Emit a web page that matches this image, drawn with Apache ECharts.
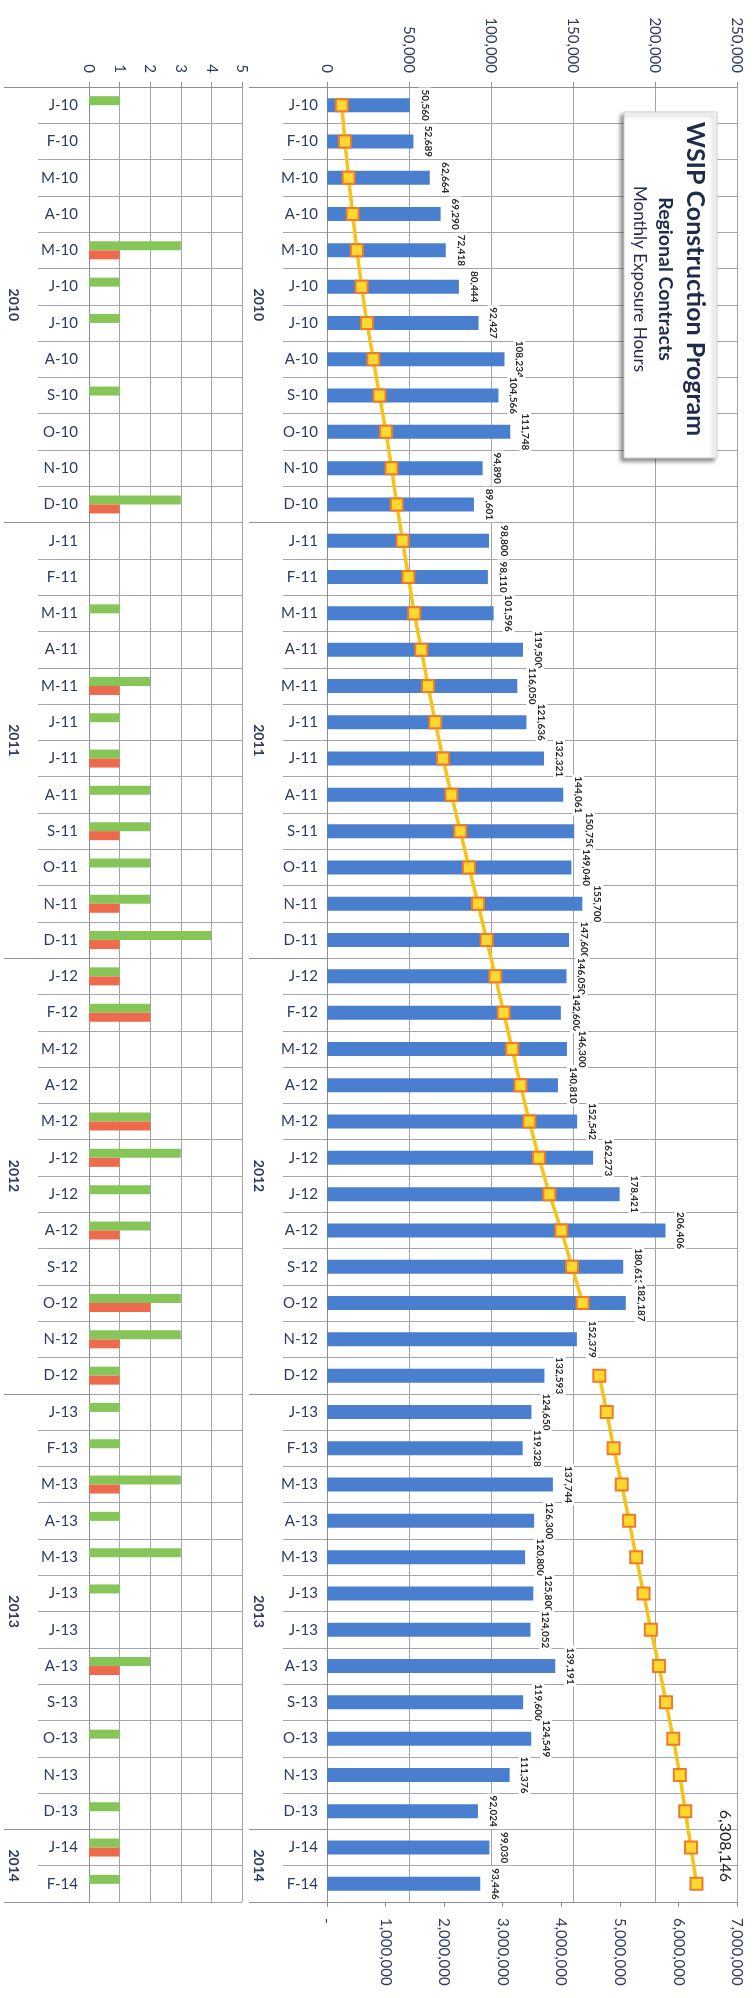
<!DOCTYPE html>
<html>
<head>
<meta charset="utf-8">
<title>WSIP Construction Program - Monthly Exposure Hours</title>
<script src="https://cdn.jsdelivr.net/npm/echarts@6.0.0/dist/echarts.min.js"></script>
<style>
  html, body { margin: 0; padding: 0; background: #fff; }
  #chart { width: 756px; height: 1998px; }
</style>
</head>
<body>
<div id="chart"></div>
<script>
// categories (one per month, Jan 2010 .. Feb 2014)
const months = [
  'J-10','F-10','M-10','A-10','M-10','J-10','J-10','A-10','S-10','O-10','N-10','D-10',
  'J-11','F-11','M-11','A-11','M-11','J-11','J-11','A-11','S-11','O-11','N-11','D-11',
  'J-12','F-12','M-12','A-12','M-12','J-12','J-12','A-12','S-12','O-12','N-12','D-12',
  'J-13','F-13','M-13','A-13','M-13','J-13','J-13','A-13','S-13','O-13','N-13','D-13',
  'J-14','F-14'
];
const years = ['2010', '2011', '2012', '2013', '2014'];
const yearSizes = [12, 12, 12, 12, 2];

// monthly exposure hours (blue bars)
const monthlyHours = [
  50560, 52689, 62664, 69290, 72418, 80444, 92427, 108234, 104566, 111748, 94890, 89601,
  98800, 98110, 101596, 119500, 116050, 121636, 132321, 144061, 150750, 149040, 155700, 147600,
  146050, 142600, 146300, 140810, 152542, 162273, 178421, 206406, 180613, 182187, 152379, 132593,
  124650, 119328, 137744, 126300, 120800, 125800, 124052, 139191, 119600, 124549, 111376, 92024,
  99030, 93446
];

// cumulative hours (yellow line; N-12 point missing)
const cumulativeHours = [
  253000, 306000, 368000, 438000, 510000, 590000, 683000, 791000, 896000, 1007000, 1102000, 1192000,
  1291000, 1389000, 1490000, 1610000, 1726000, 1848000, 1980000, 2124000, 2275000, 2424000, 2579000, 2727000,
  2873000, 3016000, 3162000, 3303000, 3455000, 3618000, 3796000, 4002000, 4183000, 4365000, null, 4650000,
  4775000, 4894000, 5032000, 5158000, 5279000, 5405000, 5529000, 5668000, 5788000, 5912000, 6024000, 6116000,
  6215000, 6308146
];

// incident counts, small left panel
const greenCounts = [
  1, 0, 0, 0, 3, 1, 1, 0, 1, 0, 0, 3,
  0, 0, 1, 0, 2, 1, 1, 2, 2, 2, 2, 4,
  1, 2, 0, 0, 2, 3, 2, 2, 0, 3, 3, 1,
  1, 1, 3, 1, 3, 1, 0, 2, 0, 1, 0, 1,
  1, 1
];
const redCounts = [
  0, 0, 0, 0, 1, 0, 0, 0, 0, 0, 0, 1,
  0, 0, 0, 0, 1, 0, 1, 0, 1, 0, 1, 1,
  1, 2, 0, 0, 2, 1, 0, 1, 0, 2, 1, 1,
  0, 0, 1, 0, 0, 0, 0, 1, 0, 0, 0, 0,
  1, 0
];

const fmt = (v) => Number(v).toLocaleString('en-US');

// first index of each year, and middle position of each year group
const groupStarts = [];
const groupMids = {};
let acc = 0;
yearSizes.forEach((n, i) => {
  groupStarts.push(acc);
  groupMids[acc + n / 2] = years[i];
  acc += n;
});

const gridColor = '#a3a3ad';
const labelColor = '#2d3a62';
const FONT = 'Lato';

function monthAxis(gridIndex, margin, tickLen) {
  return {
    type: 'category', gridIndex, data: months, inverse: true, position: 'left',
    axisLine: { show: true, lineStyle: { color: '#8e8e98', width: 1 } },
    axisTick: { show: true, interval: 0, length: tickLen, lineStyle: { color: gridColor } },
    axisLabel: { interval: 0, margin, fontSize: 15, color: labelColor, fontFamily: FONT },
    splitLine: { show: true, interval: 0, lineStyle: { color: gridColor, width: 1 } }
  };
}
function yearBoundaryAxis(gridIndex, tickLen) {
  return {
    type: 'category', gridIndex, data: months, inverse: true, position: 'left',
    axisLine: { show: false },
    axisTick: { show: true, length: tickLen, interval: (i) => groupStarts.includes(i),
      lineStyle: { color: '#8e8e98' } },
    axisLabel: { show: false },
    splitLine: { show: false }
  };
}
function yearLabelAxis(gridIndex, offset) {
  return {
    type: 'value', gridIndex, min: 0, max: months.length, interval: 1, inverse: true,
    position: 'left', offset,
    axisLine: { show: false }, axisTick: { show: false }, splitLine: { show: false },
    axisLabel: { rotate: -90, margin: 0, fontSize: 14, fontWeight: 'bold', color: labelColor,
      fontFamily: FONT, formatter: (v) => groupMids[v] || '' }
  };
}

const chart = echarts.init(document.getElementById('chart'));

const lastIdx = cumulativeHours.length - 1;

const option = {
  animation: false,
  backgroundColor: '#ffffff',
  textStyle: { fontFamily: FONT },
  grid: [
    { left: 89, top: 87, width: 153, height: 1815, outerBoundsMode: 'none' },
    { left: 327, top: 87, width: 410, height: 1815, outerBoundsMode: 'none' }
  ],
  xAxis: [
    {
      type: 'value', gridIndex: 0, position: 'top', min: 0, max: 5, interval: 1,
      axisLine: { show: true, lineStyle: { color: '#8e8e98' } },
      axisTick: { show: true, length: 5, lineStyle: { color: '#8e8e98' } },
      axisLabel: { rotate: -90, margin: 14, fontSize: 15, color: labelColor, fontFamily: FONT },
      splitLine: { show: true, lineStyle: { color: gridColor } }
    },
    {
      type: 'value', gridIndex: 1, position: 'top', min: 0, max: 250000, interval: 50000,
      axisLine: { show: true, lineStyle: { color: '#8e8e98' } },
      axisTick: { show: true, length: 5, lineStyle: { color: '#8e8e98' } },
      axisLabel: { rotate: -90, margin: 14, fontSize: 15, color: labelColor, fontFamily: FONT,
        formatter: fmt },
      splitLine: { show: true, lineStyle: { color: gridColor } }
    },
    {
      type: 'value', gridIndex: 1, position: 'bottom', min: 0, max: 7000000, interval: 1000000,
      axisLine: { show: true, lineStyle: { color: '#8e8e98' } },
      axisTick: { show: true, length: 5, lineStyle: { color: '#8e8e98' } },
      axisLabel: { rotate: -90, margin: 16, fontSize: 15, color: labelColor, fontFamily: FONT,
        formatter: (v) => (v === 0 ? '-' : fmt(v)) },
      splitLine: { show: false }
    }
  ],
  yAxis: [
    monthAxis(0, 11, 51),
    yearBoundaryAxis(0, 85),
    yearLabelAxis(0, 68),
    monthAxis(1, 9, 44),
    yearBoundaryAxis(1, 78),
    yearLabelAxis(1, 61)
  ],
  series: [
    {
      name: 'Green', type: 'bar', xAxisIndex: 0, yAxisIndex: 0,
      data: greenCounts, barWidth: 9, barGap: '0%',
      itemStyle: { color: '#86c558' }
    },
    {
      name: 'Red', type: 'bar', xAxisIndex: 0, yAxisIndex: 0,
      data: redCounts, barWidth: 9, barGap: '0%',
      itemStyle: { color: '#ee6a4c' }
    },
    {
      name: 'Monthly Exposure Hours', type: 'bar', xAxisIndex: 1, yAxisIndex: 3,
      data: monthlyHours, barWidth: 14,
      itemStyle: { color: '#4a7fcf' },
      label: {
        show: true, position: 'right', distance: 15, rotate: -90,
        align: 'center', verticalAlign: 'middle',
        fontSize: 10, fontWeight: 'bold', color: '#2a2a2a', backgroundColor: '#ffffff',
        padding: [1, 2], formatter: (p) => fmt(p.value)
      },
      z: 3
    },
    {
      name: 'Cumulative Hours', type: 'line', xAxisIndex: 2, yAxisIndex: 3,
      data: cumulativeHours.map((v, i) => (i === lastIdx ? {
        value: v,
        label: {
          show: true, position: 'right', distance: 22, rotate: -90,
          align: 'center', verticalAlign: 'middle', offset: [-38, 0],
          fontSize: 16, color: '#222', formatter: (p) => fmt(p.value)
        }
      } : v)),
      connectNulls: false,
      symbol: 'rect', symbolSize: 12, showAllSymbol: true,
      lineStyle: { color: '#f6c416', width: 3.5 },
      itemStyle: { color: '#ffd92e', borderColor: '#f07a2c', borderWidth: 2 },
      z: 5
    }
  ],
  graphic: [
    {
      type: 'rect', z: 20,
      shape: { x: 624, y: 112, width: 93, height: 346 },
      style: { fill: '#ffffff', stroke: '#cfcfd4', lineWidth: 1,
        shadowBlur: 4, shadowOffsetX: -3, shadowOffsetY: 3, shadowColor: 'rgba(0,0,0,0.45)' }
    },
    {
      type: 'text', z: 21, x: 695, y: 279, rotation: -Math.PI / 2,
      style: { text: 'WSIP Construction Program', font: 'bold 25px Lato', fill: '#1f2b4a',
        align: 'center', verticalAlign: 'middle' }
    },
    {
      type: 'text', z: 21, x: 665, y: 279, rotation: -Math.PI / 2,
      style: { text: 'Regional Contracts', font: 'bold 19.5px Lato', fill: '#1f2b4a',
        align: 'center', verticalAlign: 'middle' }
    },
    {
      type: 'text', z: 21, x: 639, y: 279, rotation: -Math.PI / 2,
      style: { text: 'Monthly Exposure Hours', font: '17px Lato', fill: '#1f2b4a',
        align: 'center', verticalAlign: 'middle' }
    }
  ]
};

chart.setOption(option);
window.addEventListener('resize', () => chart.resize());
</script>
</body>
</html>
